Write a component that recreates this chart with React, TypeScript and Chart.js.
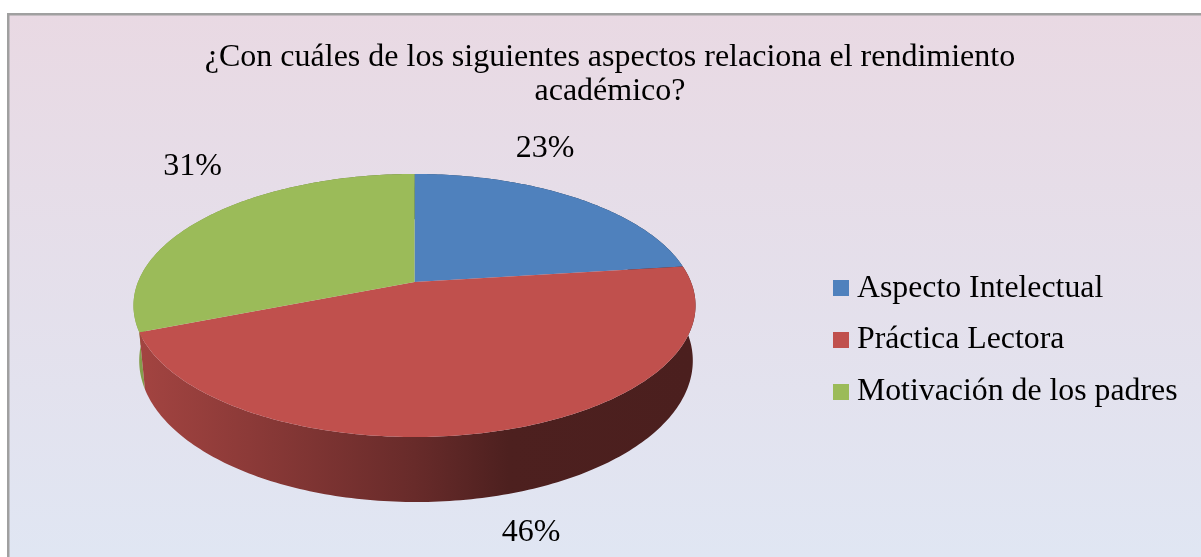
import React, { useEffect, useRef } from "react";
import { Chart, registerables } from "chart.js";

Chart.register(...registerables);

const titleLines = ["¿Con cuáles de los siguientes aspectos relaciona el rendimiento", "académico?"];
const categories = ["Aspecto Intelectual", "Práctica Lectora", "Motivación de los padres"];
const shares = [23, 46, 31];
const sliceColors = ["#4f81bd", "#c0504d", "#9bbb59"];

const FONT = '"Liberation Serif", "Times New Roman", serif';

// Perspective projection of the round pie onto the page
const PIE = { cx: 414.5, cy: 282, a: 276.5, b: 127.3, k: 0.1787, depth: 53.4, floor: 0.985, floorShift: 1.5 };
// Label anchors relative to the projected pie centre
const LABEL_OFFSETS = [[130.5, -133], [116.5, 251], [-222, -115]];
// Shading of the wall, left to right across the pie
const WALL_STOPS: [number, number][] = [[0, 0.85], [0.2, 0.73], [0.5, 0.54], [0.67, 0.4], [1, 0.39]];

function project(angle: number, lower: boolean) {
  const u = Math.cos(angle);
  const v = Math.sin(angle);
  const w = 1 - PIE.k * v;
  const a = lower ? PIE.a * PIE.floor : PIE.a;
  return {
    x: PIE.cx + (lower ? PIE.floorShift : 0) + (a * u) / w,
    y: PIE.cy + (PIE.b * v) / w + (lower ? PIE.depth / w : 0),
  };
}

function rim(start: number, end: number, lower: boolean) {
  const steps = Math.max(8, Math.ceil(Math.abs(end - start) * 60));
  const pts = [];
  for (let i = 0; i <= steps; i++) pts.push(project(start + ((end - start) * i) / steps, lower));
  return pts;
}

function shade(hex: string, f: number) {
  const n = parseInt(hex.slice(1), 16);
  const c = [(n >> 16) & 255, (n >> 8) & 255, n & 255].map((p) => Math.round(p * f));
  return `rgb(${c[0]},${c[1]},${c[2]})`;
}

const piePlugin = {
  id: "perspectivePie",
  beforeDraw(chart: any) {
    const { ctx, width, height } = chart;
    ctx.save();
    ctx.fillStyle = "#ffffff";
    ctx.fillRect(0, 0, width, height);
    const g = ctx.createLinearGradient(0, 13, 0, height);
    g.addColorStop(0, "#e9d9e3");
    g.addColorStop(1, "#e0e6f3");
    ctx.fillStyle = g;
    ctx.fillRect(7, 13, width - 7, height - 13);
    ctx.fillStyle = "#a0a0a0";
    ctx.fillRect(7, 13, width - 7, 2.5);
    ctx.fillRect(7, 13, 2.5, height - 13);
    ctx.restore();
  },
  beforeDatasetDraw(chart: any, args: any) {
    const { ctx } = chart;
    const arcs = args.meta.data;
    const left = PIE.cx - PIE.a;
    const span = PIE.a * 2;
    ctx.save();
    // walls: back slices first, the front slice last
    [0, 2, 1].forEach((i) => {
      const arc = arcs[i];
      const color = arc.options.backgroundColor;
      const top = rim(arc.startAngle, arc.endAngle, false);
      const bottom = rim(arc.startAngle, arc.endAngle, true).reverse();
      const g = ctx.createLinearGradient(left, 0, left + span, 0);
      WALL_STOPS.forEach(([p, f]) => g.addColorStop(p, shade(color, f)));
      ctx.fillStyle = g;
      ctx.beginPath();
      [...top, ...bottom].forEach((p, n) => (n ? ctx.lineTo(p.x, p.y) : ctx.moveTo(p.x, p.y)));
      ctx.closePath();
      ctx.fill();
    });
    // top faces
    arcs.forEach((arc: any) => {
      ctx.fillStyle = arc.options.backgroundColor;
      ctx.beginPath();
      ctx.moveTo(PIE.cx, PIE.cy);
      rim(arc.startAngle, arc.endAngle, false).forEach((p) => ctx.lineTo(p.x, p.y));
      ctx.closePath();
      ctx.fill();
    });
    ctx.restore();
    return false;
  },
  afterDatasetsDraw(chart: any) {
    const { ctx } = chart;
    ctx.save();
    ctx.font = `32px ${FONT}`;
    ctx.fillStyle = "#000000";
    ctx.textAlign = "center";
    ctx.textBaseline = "middle";
    shares.forEach((s, i) => {
      ctx.fillText(`${s}%`, PIE.cx + LABEL_OFFSETS[i][0], PIE.cy + LABEL_OFFSETS[i][1]);
    });
    ctx.restore();
  },
};

function swatch(color: string) {
  const c = document.createElement("canvas");
  c.width = 16;
  c.height = 16;
  const x = c.getContext("2d")!;
  x.fillStyle = color;
  x.fillRect(0, 0, 16, 16);
  return c;
}

export default function App() {
  const ref = useRef<HTMLCanvasElement>(null);
  useEffect(() => {
    document.body.style.margin = "0";
    const chart = new Chart(ref.current!, {
      type: "pie",
      data: {
        labels: categories,
        datasets: [{ data: shares, backgroundColor: sliceColors, borderWidth: 0 }],
      },
      options: {
        animation: false,
        responsive: false,
        layout: { padding: { left: 32.5, right: 13.5 } },
        plugins: {
          tooltip: { enabled: false },
          title: {
            display: true,
            text: titleLines,
            color: "#000000",
            font: { family: FONT, size: 32, weight: "normal", lineHeight: 1.08 },
            padding: { top: 40, bottom: 14 },
          },
          legend: {
            position: "right",
            fullSize: false,
            labels: {
              color: "#000000",
              font: { family: FONT, size: 31.8 },
              usePointStyle: true,
              pointStyleWidth: 0.01,
              boxHeight: 16,
              padding: 19.9,
              generateLabels: () =>
                categories.map((text, i) => ({
                  text,
                  fillStyle: sliceColors[i],
                  strokeStyle: sliceColors[i],
                  lineWidth: 0,
                  pointStyle: swatch(sliceColors[i]),
                  index: i,
                })),
            },
          },
        },
      } as any,
      plugins: [piePlugin],
    });
    return () => chart.destroy();
  }, []);
  return <canvas ref={ref} width={1201} height={557} style={{ display: "block" }} />;
}
